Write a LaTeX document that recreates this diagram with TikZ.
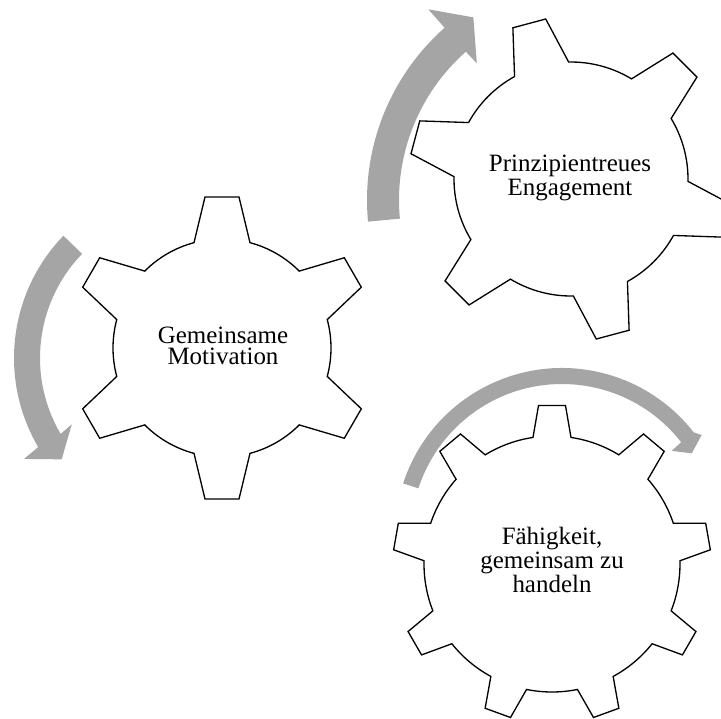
\documentclass[tikz,border=0pt]{standalone}
\usepackage{fontspec}
\setmainfont{Liberation Serif}
\definecolor{arrowgray}{RGB}{165,165,165}

% Gear outline: centre (#1,#2), #3 teeth, first tooth at angle #4,
% root radius #5, tip radius #6, half tip width #7, half root width #8
\newcommand{\drawgear}[8]{%
  \pgfmathsetmacro{\gstep}{360/#3}%
  \pgfmathsetmacro{\gat}{asin(#7/#6)}%
  \pgfmathsetmacro{\gab}{asin(#8/#5)}%
  \pgfmathtruncatemacro{\glast}{#3-1}%
  \begin{scope}[shift={(#1,#2)}]
    \draw[gearline] ({#4-\gab}:#5)
      \foreach \k in {0,...,\glast}{
        -- ({#4+\k*\gstep-\gat}:#6) -- ({#4+\k*\gstep+\gat}:#6)
        -- ({#4+\k*\gstep+\gab}:#5)
        arc[start angle={#4+\k*\gstep+\gab}, end angle={#4+(\k+1)*\gstep-\gab}, radius=#5]
      } -- cycle;
  \end{scope}}

\begin{document}
\begin{tikzpicture}[x=0.02cm, y=-0.02cm,
  gearline/.style={draw=black, line width=0.75pt, fill=white, line join=miter},
  turnarrow/.style={fill=arrowgray, draw=none},
  gearlabel/.style={align=center, inner sep=0pt, text=black,
    font=\fontsize{14.2}{12.3}\selectfont}]
\useasboundingbox (0,0) rectangle (721,718);
\clip (0,0) rectangle (721,718);

% turning arrows
\begin{scope}[shift={(190,358)}]
  \fill[turnarrow] (224:176) arc[start angle=224, end angle=149.6, radius=176]
    -- (148.7:194.3) -- (141.7:163.5) -- (150.7:135.6)
    -- (149.6:150) arc[start angle=149.6, end angle=224, radius=150] -- cycle;
\end{scope}
\begin{scope}[shift={(597,200)}]
  \fill[turnarrow] (174.6:230) arc[start angle=174.6, end angle=228.5, radius=230]
    -- (228.5:254.6) -- (235.9:220.6) -- (228.7:182.1)
    -- (228.5:198) arc[start angle=228.5, end angle=174.6, radius=198] -- cycle;
\end{scope}
\begin{scope}[shift={(562,535)}]
  \fill[turnarrow] (-162:167) arc[start angle=-162, end angle=-37.9, radius=167]
    -- (-35.6:171.8) -- (-32.2:153.3) -- (-37.5:138.3)
    -- (-37.9:151) arc[start angle=-37.9, end angle=-162, radius=151] -- cycle;
\end{scope}

% gears
\drawgear{222}{348}{6}{-90}{109}{152}{17}{28}
\drawgear{571}{179}{6}{-105}{117}{162}{17}{28}
\drawgear{552}{564}{9}{-90}{128}{159}{13.5}{19}

% labels
\node[gearlabel] (motivation) at (223,346) {Gemeinsame\\Motivation};
\node[gearlabel] (engagement) at (570,178) {Prinzipientreues\\Engagement};
\node[gearlabel] (capacity) at (552,560) {Fähigkeit,\\gemeinsam zu\\handeln};
\end{tikzpicture}
\end{document}
